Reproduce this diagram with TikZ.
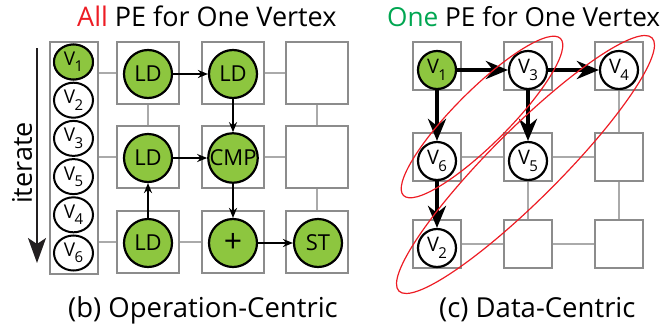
\documentclass[tikz,border=0pt]{standalone}
\usepackage{fontspec}
\setmainfont{Open Sans}
\usetikzlibrary{arrows.meta,shapes.geometric}
\definecolor{pegreen}{HTML}{8DC63F}
\definecolor{allred}{HTML}{ED1C24}
\definecolor{onegreen}{HTML}{00A651}
\definecolor{pegray}{HTML}{8C8C8C}
\definecolor{linkgray}{HTML}{AAAAAA}
\definecolor{iterdark}{HTML}{231F20}
\newcommand{\vtx}[1]{V\kern-0.5pt\raisebox{-0.33em}{\fontsize{15}{15}\selectfont #1}}
\begin{document}
\begin{tikzpicture}[x=1pt,y=-1pt,
    pebig/.style={draw=pegray,line width=2.2pt,fill=white,minimum size=62pt,inner sep=0pt},
    pesmall/.style={draw=pegray,line width=2.2pt,fill=white,minimum size=48pt,inner sep=0pt},
    opnode/.style={circle,draw,line width=2.2pt,fill=pegreen,minimum size=48pt,inner sep=0pt,font=\fontsize{22}{22}\selectfont},
    qnode/.style={ellipse,draw,line width=2pt,fill=white,minimum width=39pt,minimum height=35pt,inner sep=0pt,font=\fontsize{19}{19}\selectfont},
    vnode/.style={circle,draw,line width=2.2pt,fill=white,minimum size=38pt,inner sep=0pt,font=\fontsize{20}{20}\selectfont},
    link/.style={draw=linkgray,line width=2pt},
    thin/.style={-{Stealth[length=10pt,width=8pt]},line width=1.8pt},
    thick/.style={-{Stealth[length=22pt,width=18pt,inset=7pt]},line width=4pt},
    ring/.style={ellipse,draw=allred,line width=1.2pt,inner sep=0pt},
    caption/.style={anchor=base west,inner sep=0pt,font=\fontsize{27}{30}\selectfont}]
    \useasboundingbox (0,0) rectangle (662,327);
    % operation-centric
    \node[caption](tb) at (77,26.7) {\textcolor{allred}{All} PE for One Vertex};
    \node[caption,font=\fontsize{27.5}{30}\selectfont](cb) at (68,317) {(b) Operation-Centric};
    \node[pebig](b11) at (148,73) {};
    \node[pebig](b12) at (233,73) {};
    \node[pebig](b13) at (317,73) {};
    \node[pebig](b21) at (148,157) {};
    \node[pebig](b22) at (233,157) {};
    \node[pebig](b23) at (317,157) {};
    \node[pebig](b31) at (148,242) {};
    \node[pebig](b32) at (233,242) {};
    \node[pebig](b33) at (317,242) {};
    \node[draw=pegray,line width=2.2pt,minimum width=48pt,minimum height=232pt](qbox) at (74,158) {};
    \node[qnode](q1) at (73.5,62) {\vtx{1}};
    \node[qnode](q2) at (73.5,100.2) {\vtx{2}};
    \node[qnode](q3) at (73.5,138.4) {\vtx{3}};
    \node[qnode](q5) at (73.5,176.6) {\vtx{5}};
    \node[qnode](q4) at (73.5,214.8) {\vtx{4}};
    \node[qnode](q6) at (73.5,253) {\vtx{6}};
    \node[qnode,fill=pegreen] at (q1) {\vtx{1}};
    \draw[link] (qbox.east |- b11) -- (b11.west);
    \draw[link] (qbox.east |- b21) -- (b21.west);
    \draw[link] (qbox.east |- b31) -- (b31.west);
    \draw[link] (b12.east) -- (b13.west);
    \draw[link] (b22.east) -- (b23.west);
    \draw[link] (b31.east) -- (b32.west);
    \draw[link] (b11.south) -- (b21.north);
    \draw[link] (b13.south) -- (b23.north);
    \draw[link] (b23.south) -- (b33.north);
    \node[opnode](o11) at (148,74) {LD};
    \node[opnode](o12) at (233,74) {LD};
    \node[opnode](o21) at (148,158) {LD};
    \node[opnode](o22) at (233,158) {CMP};
    \node[opnode](o31) at (148,243) {LD};
    \node[opnode](o32) at (233,243) {\fontsize{32}{32}\selectfont +};
    \node[opnode](o33) at (318,243) {ST};
    \draw[thin](o11) -- (o12);
    \draw[thin](o12) -- (o22);
    \draw[thin](o21) -- (o22);
    \draw[thin](o31) -- (o21);
    \draw[thin](o22) -- (o32);
    \draw[thin](o32) -- (o33);
    \coordinate(itop) at (37,48);
    \coordinate(ibot) at (37,263);
    \draw[-{Stealth[length=25pt,width=18pt,inset=6pt]},line width=2pt,iterdark](itop) -- (ibot);
    \node[rotate=90,font=\fontsize{27}{30}\selectfont](it) at (22,163) {iterate};
    % data-centric
    \node[caption,font=\fontsize{26.2}{30}\selectfont](tc) at (387,26.7) {\textcolor{onegreen}{One} PE for One Vertex};
    \node[caption,font=\fontsize{27.5}{30}\selectfont](cc) at (439,317) {(c) Data-Centric};
    \node[pesmall](c11) at (437,66) {};
    \node[pesmall](c12) at (528,66) {};
    \node[pesmall](c13) at (619,66) {};
    \node[pesmall](c21) at (437,157) {};
    \node[pesmall](c22) at (528,157) {};
    \node[pesmall](c23) at (619,157) {};
    \node[pesmall](c31) at (437,244) {};
    \node[pesmall](c32) at (528,244) {};
    \node[pesmall](c33) at (619,244) {};
    \draw[link] (c21.east) -- (c22.west);
    \draw[link] (c22.east) -- (c23.west);
    \draw[link] (c31.east) -- (c32.west);
    \draw[link] (c32.east) -- (c33.west);
    \draw[link] (c13.south) -- (c23.north);
    \draw[link] (c22.south) -- (c32.north);
    \draw[link] (c23.south) -- (c33.north);
    \node[vnode,fill=pegreen](v1) at (437,70) {\vtx{1}};
    \node[vnode](v3) at (528,70) {\vtx{3}};
    \node[vnode](v4) at (619,70) {\vtx{4}};
    \node[vnode](v6) at (437,161) {\vtx{6}};
    \node[vnode](v5) at (528,161) {\vtx{5}};
    \node[vnode](v2) at (437,248) {\vtx{2}};
    \draw[thick](v1) -- (v3);
    \draw[thick](v3) -- (v4);
    \draw[thick](v1) -- (v6);
    \draw[thick](v3) -- (v5);
    \draw[thick](v6) -- (v2);
    \node[ring,minimum width=222pt,minimum height=54pt,rotate=45](e1) at (482,117) {};
    \node[ring,minimum width=358pt,minimum height=70pt,rotate=45](e2) at (525.5,164.5) {};
\end{tikzpicture}
\end{document}
